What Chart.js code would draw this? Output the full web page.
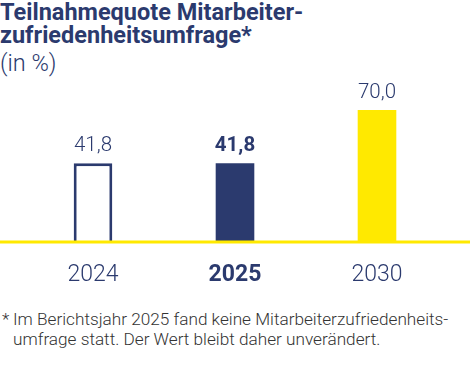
<!DOCTYPE html>
<html lang="de">
<head>
  <meta charset="UTF-8">
  <title>Teilnahmequote Mitarbeiterzufriedenheitsumfrage</title>
  <script src="https://cdn.jsdelivr.net/npm/chart.js"></script>
  <style>
    body { margin: 0; width: 470px; height: 373px; background: #fff; position: relative; overflow: hidden; font-family: Roboto, "Liberation Sans", sans-serif; }
    .title { position: absolute; left: 0; top: 1px; color: #2b3a6e; font-size: 23.5px; line-height: 23px; }
    .title b { font-weight: 700; }
    .title span { display: block; font-weight: 300; margin-top: 3px; line-height: 26px; }
    .box { position: absolute; left: 0; top: 70px; width: 470px; height: 220px; }
    .note { position: absolute; left: 0; top: 309px; width: 470px; color: #333; font-size: 17.2px; line-height: 20px; font-weight: 300; }
    .note span { position: absolute; left: 2px; top: 0; }
    .note p { margin: 0 0 0 13px; }
  </style>
</head>
<body>
  <div class="title"><b>Teilnahmequote Mitarbeiter-<br>zufriedenheitsumfrage*</b><span>(in %)</span></div>

  <div class="box"><canvas id="chart"></canvas></div>

  <div class="note"><span>*</span><p>Im Berichtsjahr 2025 fand keine Mitarbeiterzufriedenheits-<br>umfrage statt. Der Wert bleibt daher unverändert.</p></div>

  <script>
    // Daten
    const years = ['2024', '2025', '2030'];
    const quote = [41.8, 41.8, 70.0];
    const valueLabels = ['41,8', '41,8', '70,0'];
    const boldIndex = 1;

    const navy = '#2b3a6e';
    const yellow = '#ffe900';
    const fam = 'Roboto, "Liberation Sans", sans-serif';

    // Wert über den Balken + gelbe Grundlinie
    const extras = {
      id: 'extras',
      afterDatasetsDraw(chart) {
        const ctx = chart.ctx;
        const meta = chart.getDatasetMeta(0);
        ctx.save();
        ctx.fillStyle = navy;
        ctx.textAlign = 'center';
        ctx.textBaseline = 'alphabetic';
        meta.data.forEach((bar, i) => {
          ctx.font = (i === boldIndex ? 'bold ' : '300 ') + '20.5px ' + fam;
          ctx.fillText(valueLabels[i], bar.x, bar.y - 12);
        });
        const y0 = chart.scales.y.getPixelForValue(0);
        ctx.fillStyle = yellow;
        ctx.fillRect(0, y0 - 1.5, chart.width, 3);
        ctx.restore();
      }
    };

    new Chart(document.getElementById('chart'), {
      type: 'bar',
      data: {
        labels: years,
        datasets: [{
          data: quote,
          backgroundColor: ['#ffffff', navy, yellow],
          borderColor: [navy, navy, yellow],
          borderWidth: [3, 0, 0],
          borderSkipped: 'bottom',
          barPercentage: 0.272,
          categoryPercentage: 1
        }]
      },
      options: {
        responsive: true,
        maintainAspectRatio: false,
        animation: false,
        layout: { padding: { left: 22, right: 22, top: 0, bottom: 0 } },
        plugins: { legend: { display: false }, tooltip: { enabled: false } },
        scales: {
          x: {
            grid: { display: false, drawTicks: false },
            border: { display: false },
            afterFit: (s) => { s.height = 48; },
            ticks: {
              padding: 19,
              color: navy,
              maxRotation: 0,
              font: (c) => ({ size: 23, family: fam, weight: c.index === boldIndex ? 'bold' : '300' })
            }
          },
          y: {
            display: false,
            min: 0,
            max: 91.2
          }
        }
      },
      plugins: [extras]
    });
  </script>
</body>
</html>
